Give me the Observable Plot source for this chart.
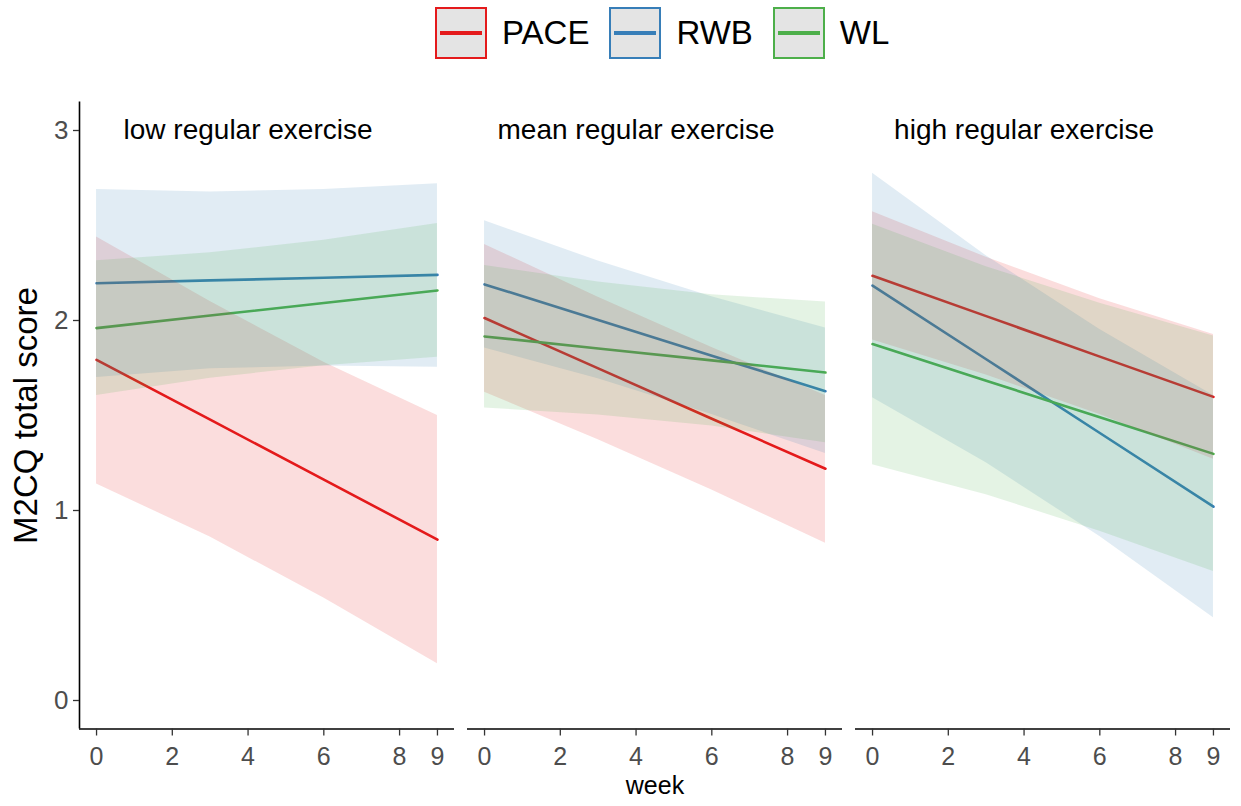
<!DOCTYPE html>
<html>
<head>
<meta charset="utf-8">
<script src="https://cdn.jsdelivr.net/npm/d3@7"></script>
<script src="https://cdn.jsdelivr.net/npm/@observablehq/plot@0.6"></script>
<style>
  body { margin: 0; background: #fff; font-family: "Liberation Sans", Arial, sans-serif; }
  #wrap { width: 1241px; position: relative; }
  #legend { position: relative; height: 70px; }
  #legend .items { position: absolute; left: 435px; top: 7px; display: flex; align-items: center; }
  #legend .key { width: 52px; height: 52px; box-sizing: border-box; border: 2.5px solid; background: #e4e4e4; position: relative; }
  #legend .ln { position: absolute; left: 3px; right: 3px; top: 50%; height: 3.5px; margin-top: -1.75px; }
  #legend .lab { font-size: 33px; margin-left: 15px; margin-right: 20px; line-height: 52px; color: #000; }
</style>
</head>
<body>
<div id="wrap">
  <div id="legend"><div class="items"></div></div>
  <div id="chart"></div>
</div>
<script>
// ---- data ----
const weeks = [0, 3, 6, 9];
const panels = ["low regular exercise", "mean regular exercise", "high regular exercise"];
const groups = ["PACE", "RWB", "WL"];
const colors = ["#E41A1C", "#377EB8", "#4DAF4A"];
const xTicks = [0, 2, 4, 6, 8, 9];
const yTicks = [0, 1, 2, 3];

// fitted values and ribbon bounds at each week, one row per group (PACE, RWB, WL)
const lowFit   = [[1.793, 1.478, 1.162, 0.847], [2.196, 2.211, 2.225, 2.240], [1.960, 2.026, 2.092, 2.158]];
const lowLower = [[1.140, 0.860, 0.540, 0.193], [1.700, 1.746, 1.760, 1.754], [1.605, 1.696, 1.762, 1.807]];
const lowUpper = [[2.440, 2.100, 1.780, 1.500], [2.690, 2.676, 2.690, 2.720], [2.315, 2.356, 2.422, 2.510]];

const meanFit   = [[2.013, 1.748, 1.483, 1.220], [2.190, 2.003, 1.815, 1.628], [1.916, 1.853, 1.790, 1.726]];
const meanLower = [[1.623, 1.373, 1.108, 0.827], [1.855, 1.693, 1.505, 1.300], [1.540, 1.503, 1.445, 1.357]];
const meanUpper = [[2.400, 2.123, 1.858, 1.605], [2.525, 2.313, 2.125, 1.960], [2.290, 2.203, 2.135, 2.097]];

const highFit   = [[2.235, 2.023, 1.810, 1.598], [2.184, 1.796, 1.408, 1.020], [1.876, 1.683, 1.491, 1.298]];
const highLower = [[1.898, 1.713, 1.505, 1.270], [1.594, 1.251, 0.863, 0.436], [1.241, 1.083, 0.891, 0.679]];
const highUpper = [[2.572, 2.333, 2.115, 1.926], [2.775, 2.341, 1.953, 1.605], [2.506, 2.283, 2.091, 1.918]];

// ---- build table ----
const panelData = [
  [lowFit, lowLower, lowUpper],
  [meanFit, meanLower, meanUpper],
  [highFit, highLower, highUpper]
];
const rows = [];
panels.forEach((panel, p) => {
  const [fit, lo, hi] = panelData[p];
  groups.forEach((group, g) => {
    weeks.forEach((week, i) => {
      rows.push({panel, group, week, fit: fit[g][i], lower: lo[g][i], upper: hi[g][i]});
    });
  });
});

// ---- legend ----
const items = document.querySelector("#legend .items");
groups.forEach((g, i) => {
  const key = document.createElement("span");
  key.className = "key";
  key.style.borderColor = colors[i];
  const ln = document.createElement("span");
  ln.className = "ln";
  ln.style.background = colors[i];
  key.appendChild(ln);
  const lab = document.createElement("span");
  lab.className = "lab";
  lab.textContent = g;
  items.appendChild(key);
  items.appendChild(lab);
});

// ---- chart ----
const chart = Plot.plot({
  width: 1241,
  height: 736,
  marginLeft: 78,
  marginRight: 9,
  marginTop: 31.5,
  marginBottom: 77.5,
  style: {fontFamily: "'Liberation Sans', Arial, sans-serif", background: "#fff", overflow: "visible"},
  fx: {domain: panels, paddingInner: 0.0332, paddingOuter: 0, axis: null, label: null},
  x: {domain: [-0.45, 9.45], label: null},
  y: {domain: [-0.15, 3.15], label: null},
  color: {domain: groups, range: colors},
  marks: [
    Plot.line(rows, {fx: "panel", x: "week", y: "fit", z: "group", stroke: "group", strokeWidth: 2.6}),
    Plot.areaY(rows, {fx: "panel", x: "week", y1: "lower", y2: "upper", z: "group", fill: "group", fillOpacity: 0.15}),
    Plot.ruleY([-0.15], {stroke: "#000", strokeWidth: 1.6}),
    Plot.ruleX([{panel: panels[0], x: -0.45}], {fx: "panel", x: "x", stroke: "#000", strokeWidth: 1.6}),
    Plot.axisX({ticks: xTicks, tickFormat: d => String(d), tickSize: 7, tickPadding: 11, fontSize: 25, stroke: "#333", fill: "#4d4d4d", strokeWidth: 1.3, label: null}),
    Plot.axisY({ticks: yTicks, tickFormat: d => String(d), tickSize: 6, tickPadding: 5, fontSize: 26, stroke: "#333", fill: "#4d4d4d", strokeWidth: 1.3, label: null}),
    Plot.text(panels.map(p => ({panel: p, x: 4, y: 3})), {fx: "panel", x: "x", y: "y", text: "panel", fontSize: 28, fill: "#000"}),
    Plot.text([{panel: panels[0], t: "M2CQ total score"}], {fx: "panel", text: "t", frameAnchor: "left", textAnchor: "middle", rotate: -90, dx: -53, fontSize: 33, fill: "#000"}),
    Plot.text([{panel: panels[1], t: "week"}], {fx: "panel", text: "t", frameAnchor: "bottom", textAnchor: "middle", dy: 65, fontSize: 25, fill: "#000"})
  ]
});
document.getElementById("chart").appendChild(chart);
</script>
</body>
</html>
